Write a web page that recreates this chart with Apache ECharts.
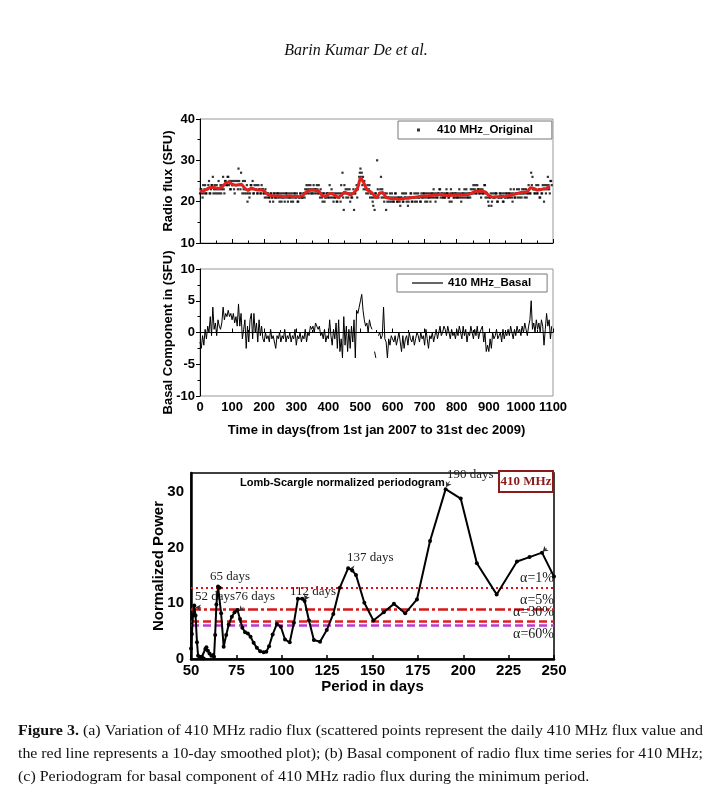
<!DOCTYPE html>
<html><head><meta charset="utf-8">
<script src="https://cdn.jsdelivr.net/npm/echarts@6/dist/echarts.min.js"></script>
<style>html,body{margin:0;padding:0;background:#fff}#c{width:713px;height:802px}</style>
</head><body><div id="c"></div><script>
// ---------- DATA ----------
const fluxStepDays = 4;  // daily 410 MHz flux, read every 4 days (SFU)
const fluxDaily = [
22,23,21,22,24,22,23,25,22,24,
26,23,22,24,23,22,24,23,26,22,
25,24,26,25,23,24,25,22,24,25,
28,24,27,22,23,25,22,20,23,22,
24,25,22,23,24,22,23,22,24,23,
22,23,21,22,21,22,21,20,22,21,
21,22,20,21,22,21,20,22,21,22,
21,20,22,21,22,21,20,21,22,21,
21,22,23,24,22,23,24,22,23,22,
23,24,22,22,23,21,22,20,21,22,
22,24,21,22,20,21,22,20,21,22,
24,27,18,22,21,23,22,20,21,22,
18,22,24,23,26,28,27,26,25,23,
23,22,24,22,21,19,18,22,30,21,
22,26,23,21,22,18,20,21,22,20,
21,20,22,21,20,21,19,21,20,22,
21,20,19,21,22,20,21,22,21,20,
22,21,20,21,22,21,22,20,21,22,
21,22,23,21,22,21,22,23,22,21,
22,21,23,22,21,22,20,22,21,22,
22,21,23,22,21,22,23,21,22,21,
22,23,22,24,23,22,24,23,22,21,
23,22,24,22,21,19,21,19,22,21,
21,22,20,21,22,21,20,22,21,22,
21,22,23,21,22,21,22,23,22,21,
22,23,22,21,23,22,24,22,27,26,
23,22,24,22,23,21,22,24,20,23,
24,26,23,25,24];
const flux2StartDay = 2; // second set of daily readings, days 2, 6, 10, ...
const fluxDaily2 = [
23,22,24,23,22,23,24,22,23,24,
22,24,23,22,25,23,22,24,23,25,
24,26,24,23,25,24,23,25,24,23,
25,23,24,25,22,23,24,22,21,24,
23,22,24,23,22,24,23,22,23,22,
21,22,22,21,20,22,21,22,21,22,
22,21,22,20,21,22,21,22,20,21,
22,21,20,22,21,22,20,21,22,21,
22,21,22,23,24,22,23,22,24,23,
22,23,24,21,22,20,22,21,22,21,
21,22,23,21,22,21,20,22,21,20,
22,21,24,23,22,21,23,22,21,23,
22,23,21,24,27,26,24,23,24,22,
24,23,21,22,20,21,22,21,23,22,
23,21,22,20,21,22,21,20,21,22,
20,21,22,20,21,20,21,22,20,21,
22,21,20,21,22,20,21,20,22,21,
21,20,22,21,22,20,21,22,21,20,
22,21,22,20,21,22,23,21,22,21,
21,22,22,21,20,23,22,21,22,21,
21,22,21,20,22,21,22,23,21,22,
21,22,23,22,24,22,23,22,23,22,
22,24,21,22,20,21,22,20,21,22,
22,20,21,22,21,22,20,21,22,21,
22,21,22,20,23,21,22,21,23,22,
21,22,23,22,21,22,23,22,24,23,
22,23,22,24,21,23,22,23,24,22,
23,24,22,25];
const smoothStepDays = 10; // 10-day smoothed flux (SFU)
const fluxSmooth = [
22.6,22.5,23.0,23.4,23.5,23.3,23.2,23.6,24.5,24.8,
24.2,24.0,24.1,24.2,23.2,22.7,23.3,23.0,22.8,22.9,
22.6,21.8,21.5,21.4,21.3,21.4,21.2,21.3,21.4,21.2,
21.3,21.2,21.4,22.3,22.7,22.8,22.7,22.6,21.5,21.2,
21.8,22.0,21.6,21.0,21.5,22.3,22.0,21.6,22.2,23.0,
25.9,24.6,22.9,22.5,21.8,20.9,22.1,22.2,21.0,20.8,
20.7,20.7,20.6,20.7,20.8,20.8,21.0,21.1,21.2,21.3,
21.4,21.4,21.5,21.6,21.6,21.8,21.6,21.5,21.5,21.6,
21.7,21.6,21.6,21.7,21.8,22.2,22.6,22.5,22.6,22.3,
21.5,21.1,21.2,21.2,21.3,21.2,21.4,21.6,21.8,22.0,
22.2,22.3,22.4,23.4,23.2,22.8,22.9,23.1,23.2,23.8];
const basalStepDays = 4; // basal component (SFU)
const basal = [
-1.5,-2.5,-0.5,-2,0.5,-1,1,0,2.5,-0.5,
4,0.5,1.5,-0.5,2,1,0.5,1.5,4,2,
3,2.5,3.5,2.5,3,2,3,1.5,2.5,1,
4.5,1,3,-1,0.5,2,-2.5,1,-1.5,2,
3,-1,3,0,1.5,-1.5,2,-0.5,1,-1,
-1.5,0,-1,-0.5,-1.5,0.5,-1,-0.5,-1.5,-2.5,
-0.5,-1,0,-1.5,-0.5,-1,0.5,-1.5,-0.5,-1,
0,-1.5,-0.5,-1,0.5,-2,-0.5,-1,0,-1.5,
-0.5,-1,0.5,-1.5,0,-0.5,1,0.5,1,0,
1.5,1,0.5,1,-0.5,0,-1,0.5,-1.5,-0.5,
-1,2,-0.5,-2,0.5,-1,1.5,-2.5,2,-3,
-1,-4,2.5,-2,1,-3,0.5,-2.5,1,-1.5,
2,-4,3.5,3,4,5,6,3.5,2,1,
1.5,0,2,1,0.5,null,-3,-4,null,-0.5,
0,-1,-0.5,4,-1,-1.5,-4,-1,-2,-0.5,
-1,-1.5,-0.5,-2,-1,0,-1.5,-3,-0.5,-2.5,
-1,-0.5,-2,0,-1,-1.5,-0.5,-2,-1,0,
-0.5,-1.5,0,-1,-0.5,-2,0.5,-1,-2.5,-0.5,
-1,0,-1.5,-0.5,0.5,-1,0,1,-0.5,0,
1,0.5,-0.5,1,0,-1,0.5,-0.5,0,-1,
0.5,-0.5,1,0,-1,1,-0.5,0.5,-1.5,0,
-0.5,1,0,-1,0.5,-0.5,1,-1,0,0.5,
1,-1.5,0,-3,-2,-3,-1,-2.5,0,-1,
-0.5,0.5,-1,-0.5,0,-1.5,0.5,-1,0,-0.5,
0.5,-0.5,1,0,-1,0.5,-0.5,1,0,0.5,
-0.5,1,0,1.5,0.5,-0.5,1,2,5,0.5,
1.5,0,2,0.5,1.5,0,2,1,-2,0.5,
3,1,2,-1,1];
const periodDays = [50,50.5,51.1,51.8,52.5,53.3,53.9,54.8,56,57,57.9,58.5,59.3,60.2,61.2,62.2,62.7,63.3,64,64.9,65.8,66.6,68,69.4,70.8,72.5,74,75.6,77,78.3,79.8,81.3,82.8,84.5,86.3,88.1,90,91.5,93,95,97.3,99.5,101.8,104.4,106.7,108.9,111.3,112.6,115,117.7,121.1,124.8,128.4,132,136.6,138.8,140.9,145.5,150.5,156.2,161.8,168,174.5,181.7,190.3,198.6,207.5,218.4,229.6,236.5,243.4,250];
const normPower = [1.9,4.5,7.8,9.6,7.8,3.0,0.6,0.4,0.4,0.1,1.8,2.1,1.5,1.0,0.6,0.7,0.4,4.3,9.8,13.0,12.8,8.2,2.2,4.3,6.2,7.6,8.4,8.8,7.2,5.6,4.8,4.6,4.0,2.9,2.0,1.4,1.2,1.3,2.3,4.4,6.3,5.8,3.5,3.0,6.5,10.8,10.8,10.4,6.9,3.4,3.1,5.2,8.1,12.8,16.3,15.9,15.1,10.1,6.9,8.4,9.9,8.2,10.7,21.2,30.5,28.8,17.2,11.6,17.5,18.3,19.1,14.8];
const alphaNames = ['α=1%','α=5%','α=30%','α=60%'];
const alphaPower = [12.8, 8.9, 6.8, 6.0];
// arrows: [tailPeriod, tailPower, tipPeriod, tipPower]
const peakArrows = [[55.6,9.2,52.6,9.3],[79,9.3,76.4,8.6],[114.2,11.5,112.5,10.6],[139.6,16.2,137.3,16.2],[192.4,31.9,190.6,30.9],[246,19.9,243.8,19.3]];

// ---------- CHART ----------
const SANS = '"Liberation Sans", Arial, sans-serif';
const SERIF = '"Liberation Serif", "Times New Roman", serif';
const chart = echarts.init(document.getElementById('c'), null, {renderer:'canvas'});

const pairs = (arr, step, start) => arr.map((v,i)=>[(start||0) + i*step, v]);

const ctx = document.createElement('canvas').getContext('2d');
function tw(t, font){ ctx.font = font; return ctx.measureText(t).width; }
const capSize = 15;
const capB = 'Figure 3.';
const cap1 = ' (a) Variation of 410 MHz radio flux (scattered points represent the daily 410 MHz flux value and';
const cap2 = 'the red line represents a 10-day smoothed plot); (b) Basal component of radio flux time series for 410 MHz;';
const cap3 = '(c) Periodogram for basal component of 410 MHz radio flux during the minimum period.';
const w1 = tw(capB, 'bold '+capSize+'px "Liberation Serif"') + tw(cap1, capSize+'px "Liberation Serif"');
const w2 = tw(cap2, capSize+'px "Liberation Serif"');
const s1 = 685 / w1, s2 = 685 / w2;

const axisBlack = {lineStyle:{color:'#000', width:1}};
const tickLbl = {fontFamily:SANS, fontWeight:'bold', fontSize:13, color:'#000'};
const nameStyle = (fs)=>({fontFamily:SANS, fontWeight:'bold', fontSize:fs, color:'#000'});

const option = {
  animation:false,
  backgroundColor:'#fff',
  grid:[
    {left:200, top:119, width:353, height:124, show:true, borderColor:'#999', borderWidth:1},
    {left:200, top:269, width:353, height:127, show:true, borderColor:'#999', borderWidth:1},
    {left:191, top:473, width:363, height:186, show:true, borderColor:'#000', borderWidth:1.5}
  ],
  xAxis:[
    {gridIndex:0, type:'value', min:0, max:1100, interval:100, axisLine:axisBlack,
     axisTick:{inside:true, length:4, lineStyle:{color:'#000'}}, minorTick:{show:true, splitNumber:2, length:2.5, lineStyle:{color:'#000'}},
     axisLabel:{show:false}, splitLine:{show:false}},
    {gridIndex:1, type:'value', min:0, max:1100, interval:100, axisLine:axisBlack,
     axisTick:{inside:true, length:4, lineStyle:{color:'#000'}}, minorTick:{show:true, splitNumber:2, length:2.5, lineStyle:{color:'#000'}},
     axisLabel:Object.assign({margin:5, showMaxLabel:true, showMinLabel:true, hideOverlap:false, formatter:v=>String(v)}, tickLbl), splitLine:{show:false},
     name:'Time in days(from 1st jan 2007 to 31st dec 2009)', nameLocation:'middle', nameGap:28, nameMoveOverlap:false,
     nameTextStyle:nameStyle(13)},
    {gridIndex:2, type:'value', min:50, max:250, interval:25, axisLine:{lineStyle:{color:'#000', width:2.5}},
     axisTick:{inside:true, length:4, lineStyle:{color:'#000', width:1.5}},
     axisLabel:{margin:4, fontFamily:SANS, fontWeight:'bold', fontSize:15, color:'#000', formatter:v=>String(v)}, splitLine:{show:false},
     name:'Period in days', nameLocation:'middle', nameGap:20, nameMoveOverlap:false,
     nameTextStyle:nameStyle(15)}
  ],
  yAxis:[
    {gridIndex:0, type:'value', min:10, max:40, interval:10, axisLine:axisBlack,
     axisTick:{inside:false, length:4, lineStyle:{color:'#000'}}, minorTick:{show:true, splitNumber:2, length:2.5, lineStyle:{color:'#000'}},
     axisLabel:Object.assign({margin:5}, tickLbl), splitLine:{show:false},
     name:'Radio flux (SFU)', nameLocation:'middle', nameGap:25, nameMoveOverlap:false,
     nameTextStyle:nameStyle(13)},
    {gridIndex:1, type:'value', min:-10, max:10, interval:5, axisLine:axisBlack,
     axisTick:{inside:false, length:4, lineStyle:{color:'#000'}}, minorTick:{show:true, splitNumber:2, length:2.5, lineStyle:{color:'#000'}},
     axisLabel:Object.assign({margin:5}, tickLbl), splitLine:{show:false},
     name:'Basal Component in (SFU)', nameLocation:'middle', nameGap:25, nameMoveOverlap:false,
     nameTextStyle:nameStyle(13)},
    {gridIndex:2, type:'value', min:0, max:33.4, interval:10, axisLine:{lineStyle:{color:'#000', width:2.5}},
     axisTick:{show:false},
     axisLabel:{margin:7, fontFamily:SANS, fontWeight:'bold', fontSize:15, color:'#000',
       formatter:v => (Math.abs(v % 10) < 1e-6 ? String(v) : '')}, splitLine:{show:false},
     name:'Normalized Power', nameLocation:'middle', nameGap:25, nameMoveOverlap:false,
     nameTextStyle:nameStyle(15)}
  ],
  legend:[
    {data:[{name:'410 MHz_Original', icon:'rect'}], left:398, top:121, itemWidth:3, itemHeight:3,
     padding:[3,19,3,19], borderColor:'#777', borderWidth:1, selectedMode:false,
     textStyle:{fontFamily:SANS, fontWeight:'bold', fontSize:11.5, color:'#000', padding:[0,0,0,12]}},
    {data:[{name:'410 MHz_Basal', icon:'rect'}], left:397, top:274, itemWidth:31, itemHeight:1.2,
     padding:[3,16,3,15], borderColor:'#777', borderWidth:1, selectedMode:false,
     textStyle:{fontFamily:SANS, fontWeight:'bold', fontSize:11.5, color:'#000'}}
  ],
  series:[
    {name:'410 MHz_Original', type:'scatter', xAxisIndex:0, yAxisIndex:0, symbol:'rect', symbolSize:2.2,
     itemStyle:{color:'#000'}, data:pairs(fluxDaily, fluxStepDays).concat(pairs(fluxDaily2, fluxStepDays, flux2StartDay)), z:2},
    {name:'10-day smoothed', type:'line', xAxisIndex:0, yAxisIndex:0, symbol:'none',
     lineStyle:{color:'#e3201b', width:3}, data:pairs(fluxSmooth, smoothStepDays), z:3},
    {name:'410 MHz_Basal', type:'line', xAxisIndex:1, yAxisIndex:1, symbol:'none', connectNulls:false,
     lineStyle:{color:'#000', width:1}, itemStyle:{color:'#000'}, data:pairs(basal, basalStepDays)},
    {name:'Periodogram', type:'line', xAxisIndex:2, yAxisIndex:2, symbol:'circle', symbolSize:4,
     lineStyle:{color:'#000', width:2}, itemStyle:{color:'#000'}, z:4,
     data:periodDays.map((p,i)=>[p, normPower[i]]),
     markLine:{silent:true, symbol:['none','none'], z:3,
       data: alphaPower.map((v,i)=>({
          yAxis:v,
          lineStyle:[
            {color:'#e01010', type:[2,3], width:2},
            {color:'#d81818', type:[10,3,3,3], width:2.5},
            {color:'#e02020', type:[8,4], width:2.5},
            {color:'#c03ad0', type:[8,4], width:2.5}][i],
          label:{show:true, formatter:alphaNames[i], position: i===3 ? 'insideEndBottom' : 'insideEndTop', distance:[0,2],
                 fontFamily:SERIF, fontSize:14, color:'#1a1a1a'}
       })).concat(peakArrows.map(a=>[
          {coord:[a[0],a[1]], symbol:'none', lineStyle:{color:'#333', width:0.8, type:'solid'}, label:{show:false}},
          {coord:[a[2],a[3]], symbol:'arrow', symbolSize:5}
       ]))
     }}
  ],
  graphic:[
    {type:'text', x:356, y:51, style:{text:'Barin Kumar De et al.', font:'italic 16px "Liberation Serif"', fill:'#111', align:'center', verticalAlign:'middle'}},
    {type:'text', x:240, y:483, style:{text:'Lomb-Scargle normalized periodogram', font:'bold 11px "Liberation Sans"', fill:'#000', verticalAlign:'middle'}},
    {type:'text', x:447, y:475, style:{text:'190 days', font:'13px "Liberation Serif"', fill:'#222', verticalAlign:'middle'}},
    {type:'text', x:347, y:558, style:{text:'137 days', font:'13px "Liberation Serif"', fill:'#222', verticalAlign:'middle'}},
    {type:'text', x:210, y:577, style:{text:'65 days', font:'13px "Liberation Serif"', fill:'#222', verticalAlign:'middle'}},
    {type:'text', x:195, y:597, style:{text:'52 days76 days', font:'13px "Liberation Serif"', fill:'#222', verticalAlign:'middle'}},
    {type:'text', x:290, y:592, style:{text:'112 days', font:'13px "Liberation Serif"', fill:'#222', verticalAlign:'middle'}},
    {type:'rect', shape:{x:499, y:471, width:54, height:21}, style:{fill:'#fff', stroke:'#8b1a1a', lineWidth:2}},
    {type:'text', x:526, y:482, style:{text:'410 MHz', font:'bold 13px "Liberation Serif"', fill:'#8b1a1a', align:'center', verticalAlign:'middle'}},
    {type:'text', x:18, y:731, scaleX:s1, style:{text:'{b|'+capB+'}'+cap1, font:capSize+'px "Liberation Serif"', fill:'#111', verticalAlign:'middle',
       rich:{b:{fontWeight:'bold', fontSize:capSize, fontFamily:'Liberation Serif', fill:'#111'}}}},
    {type:'text', x:18, y:754, scaleX:s2, style:{text:cap2, font:capSize+'px "Liberation Serif"', fill:'#111', verticalAlign:'middle'}},
    {type:'text', x:18, y:777, scaleX:s1, style:{text:cap3, font:capSize+'px "Liberation Serif"', fill:'#111', verticalAlign:'middle'}}
  ]
};
chart.setOption(option);
</script></body></html>
